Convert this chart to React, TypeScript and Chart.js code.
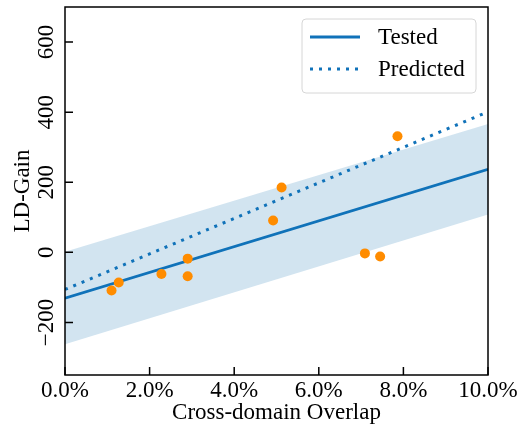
import React, { useEffect, useRef } from 'react';
import { Chart, registerables } from 'chart.js';

Chart.register(...registerables);

// ---- data ----
const overlapPct = [1.1, 1.27, 2.28, 2.9, 2.9, 4.92, 5.12, 7.09, 7.45, 7.86];
const ldGain = [-109, -86, -62, -18, -68, 91, 185, -3, -12, 331];
const fitX = [0, 10];
const testedY = [-131, 237];
const predictedY = [-106, 401];
const bandLowerY = [-262, 108];
const bandUpperY = [2, 366];
const xTicks = [0, 2, 4, 6, 8, 10];
const yTicks = [-200, 0, 200, 400, 600];
const seriesLabels = ['Tested', 'Predicted'];

const FONT = '"Liberation Serif", "Times New Roman", serif';
const FSIZE = 23;
const BLUE = '#1072b9';
const ORANGE = '#ff8c00';
const BAND = 'rgba(31,119,180,0.2)';

const fmtY = (v: number) => (v < 0 ? '\u2212' + Math.abs(v) : String(v));
const fmtX = (v: number) => v.toFixed(1) + '%';

const pts = (xs: number[], ys: number[]) => xs.map((x, i) => ({ x, y: ys[i] }));

const framePlugin = {
  id: 'frameAndLegend',
  afterDraw(chart: any) {
    const { ctx, chartArea: a, scales } = chart;
    const xs = scales.x;
    const ys = scales.y;
    ctx.save();
    // inward ticks
    ctx.strokeStyle = '#000';
    ctx.lineWidth = 1.5;
    const tl = 8;
    ctx.beginPath();
    xs.ticks.forEach((t: any) => {
      const px = xs.getPixelForValue(t.value);
      ctx.moveTo(px, a.bottom);
      ctx.lineTo(px, a.bottom - tl);
    });
    ys.ticks.forEach((t: any) => {
      const py = ys.getPixelForValue(t.value);
      ctx.moveTo(a.left, py);
      ctx.lineTo(a.left + tl, py);
    });
    ctx.stroke();
    ctx.strokeRect(a.left, a.top, a.right - a.left, a.bottom - a.top);

    // rotated y tick labels
    ctx.fillStyle = '#000';
    ctx.font = FSIZE + 'px ' + FONT;
    ctx.textAlign = 'center';
    ctx.textBaseline = 'middle';
    ys.ticks.forEach((t: any) => {
      const py = ys.getPixelForValue(t.value);
      ctx.save();
      ctx.translate(a.left - 19, py);
      ctx.rotate(-Math.PI / 2);
      ctx.fillText(fmtY(t.value), 0, 1);
      ctx.restore();
    });

    // legend
    const bx = a.right - 186;
    const by = a.top + 12;
    const bw = 174;
    const bh = 74;
    ctx.beginPath();
    const r = 4;
    ctx.moveTo(bx + r, by);
    ctx.arcTo(bx + bw, by, bx + bw, by + bh, r);
    ctx.arcTo(bx + bw, by + bh, bx, by + bh, r);
    ctx.arcTo(bx, by + bh, bx, by, r);
    ctx.arcTo(bx, by, bx + bw, by, r);
    ctx.closePath();
    ctx.fillStyle = 'rgba(255,255,255,0.8)';
    ctx.fill();
    ctx.strokeStyle = '#d6d6d6';
    ctx.lineWidth = 1;
    ctx.stroke();

    const rows = [by + 18, by + 50];
    const dashes = [[], [3, 6]];
    rows.forEach((ry, i) => {
      ctx.beginPath();
      ctx.strokeStyle = BLUE;
      ctx.lineWidth = 3;
      ctx.setLineDash(dashes[i]);
      ctx.moveTo(bx + 8, ry);
      ctx.lineTo(bx + 58, ry);
      ctx.stroke();
      ctx.setLineDash([]);
      ctx.fillStyle = '#000';
      ctx.textAlign = 'left';
      ctx.textBaseline = 'middle';
      ctx.fillText(seriesLabels[i], bx + 76, ry + 1);
    });
    ctx.restore();
  },
};

export default function App() {
  const ref = useRef<HTMLCanvasElement>(null);
  useEffect(() => {
    document.body.style.margin = '0';
    if (!ref.current) return;
    const chart = new Chart(ref.current, {
      type: 'line',
      data: {
        datasets: [
          {
            type: 'scatter',
            label: 'points',
            data: pts(overlapPct, ldGain),
            backgroundColor: ORANGE,
            borderWidth: 0,
            pointRadius: 5,
            order: 0,
          } as any,
          {
            label: seriesLabels[0],
            data: pts(fitX, testedY),
            borderColor: BLUE,
            borderWidth: 2.7,
            pointRadius: 0,
            fill: false,
            order: 1,
          },
          {
            label: seriesLabels[1],
            data: pts(fitX, predictedY),
            borderColor: BLUE,
            borderWidth: 3,
            borderDash: [3, 6],
            pointRadius: 0,
            fill: false,
            order: 2,
          },
          {
            label: 'bandLower',
            data: pts(fitX, bandLowerY),
            borderWidth: 0,
            borderColor: 'rgba(0,0,0,0)',
            pointRadius: 0,
            fill: false,
            order: 4,
          },
          {
            label: 'bandUpper',
            data: pts(fitX, bandUpperY),
            borderWidth: 0,
            borderColor: 'rgba(0,0,0,0)',
            backgroundColor: BAND,
            pointRadius: 0,
            fill: '-1',
            order: 3,
          },
        ],
      },
      options: {
        animation: false,
        responsive: true,
        maintainAspectRatio: false,
        layout: { padding: { top: 7, right: 34, left: 0, bottom: 0 } },
        plugins: { legend: { display: false }, tooltip: { enabled: false } },
        scales: {
          x: {
            type: 'linear',
            min: 0,
            max: 10,
            afterBuildTicks: (s: any) => {
              s.ticks = xTicks.map((v) => ({ value: v }));
            },
            afterFit: (s: any) => {
              s.height = 53;
            },
            grid: { display: false, drawTicks: false },
            border: { display: false },
            ticks: {
              color: '#000',
              font: { family: FONT, size: FSIZE },
              padding: 2,
              maxRotation: 0,
              callback: (v: any) => fmtX(Number(v)),
            },
            title: {
              display: true,
              text: 'Cross-domain Overlap',
              color: '#000',
              font: { family: FONT, size: FSIZE },
              padding: { top: 0, bottom: 1 },
            },
          },
          y: {
            type: 'linear',
            min: -350,
            max: 700,
            afterBuildTicks: (s: any) => {
              s.ticks = yTicks.map((v) => ({ value: v }));
            },
            afterFit: (s: any) => {
              s.width = 65;
            },
            grid: { display: false, drawTicks: false },
            border: { display: false },
            ticks: { display: false },
            title: {
              display: true,
              text: 'LD-Gain',
              color: '#000',
              font: { family: FONT, size: FSIZE },
              padding: { top: 9, bottom: 0 },
            },
          },
        },
      },
      plugins: [framePlugin],
    });
    return () => chart.destroy();
  }, []);
  return (
    <div style={{ width: 522, height: 428, position: 'relative' }}>
      <canvas ref={ref} />
    </div>
  );
}
